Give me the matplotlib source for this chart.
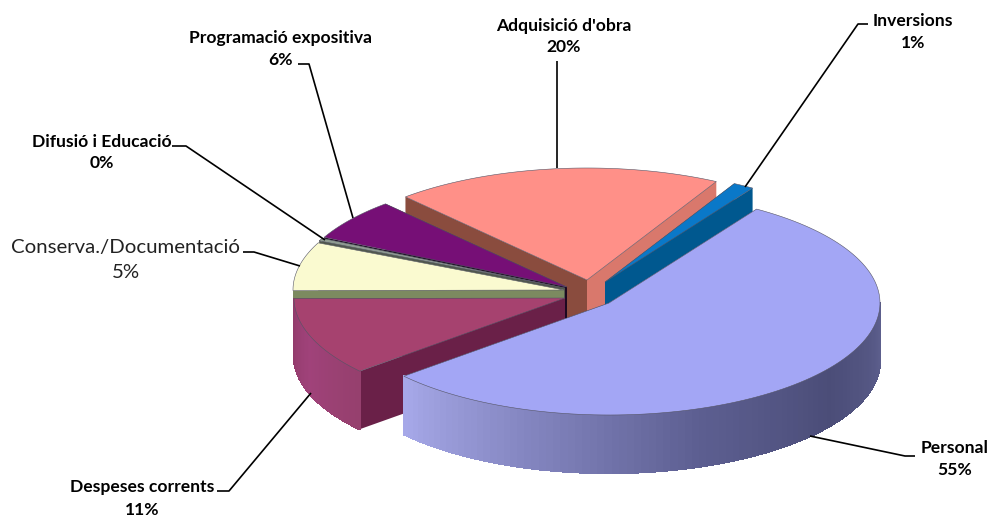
import matplotlib
matplotlib.use('Agg')
import matplotlib.pyplot as plt
from matplotlib.colors import LinearSegmentedColormap
import numpy as np

# slice sizes, going anticlockwise from Personal's far edge
labels = ['Inversions', "Adquisició d'obra", 'Programació expositiva', 'Difusió i Educació',
          'Conserva./Documentació', 'Despeses corrents', 'Personal']
pct_labels = ['1%', '20%', '6%', '0%', '5%', '11%', '55%']
shares = [1.25, 19.6, 6.0, 0.4, 7.0, 11.25, 54.5]

start_angle = 57
rx, ry, depth = 271, 112, 58

# exploded pie centres, in pixels
centres = [(605, 282), (587, 280), (567, 287), (565, 288), (564, 290), (565, 298), (609, 303)]
zorders = [3, 2, 4, 5, 6, 7, 8]
top_cols = ['#0a78c8', '#ff9088', '#760f76', '#8e9a90', '#fafad0', '#a6426f', '#a3a6f5']
# wall at the first and at the second cut of each slice
wall_start = ['#00588f', '#d9786c', '#2a0a30', '#50584c', '#7c8a60', '#6a2048', '#5c5e8c']
wall_end = ['#00588f', '#8a4c3e', '#1c0820', '#50584c', '#7c8a60', '#6a2048', '#a6a8e8']
arc_cmaps = {'Despeses corrents': ['#8f3a68', '#a0427a', '#96406e'],
             'Personal': ['#a6a8e8', '#8082bc', '#5c5e90', '#4b4d78', '#5c5e8c']}

leaders = [[(868, 24), (858, 24), (745, 187)],
           [(557, 61), (557, 168)],
           [(298, 64), (309, 64), (353, 218)],
           [(172, 146), (186, 146), (325, 240)],
           [(243, 252), (254, 252), (300, 266)],
           [(217, 491), (229, 491), (311, 393)],
           [(915, 456), (905, 456), (810, 436)]]
text_pos = [(913, 21, 43), (564, 26, 47), (281, 38, 60), (102, 142, 163),
            (126, 248, 273), (142, 487, 510), (955, 448, 470)]

plt.rcParams['font.family'] = ['Lato', 'DejaVu Sans']

fig = plt.figure(figsize=(9.98, 5.2), dpi=100)
ax = fig.add_axes([0, 0, 1, 1])
ax.set_xlim(0, 998)
ax.set_ylim(520, 0)
ax.axis('off')


def rim(c, ang):
    a = np.radians(ang)
    return c[0] + rx * np.cos(a), c[1] - ry * np.sin(a)


def cut_wall(c, ang, col, z):
    x, y = rim(c, ang)
    ax.fill([c[0], x, x, c[0]], [c[1], y, y + depth, c[1] + depth], color=col, lw=0, zorder=z)


sweeps = np.array(shares) / sum(shares) * 360
a0 = start_angle
for i, lab in enumerate(labels):
    a1 = a0 + sweeps[i]
    c = centres[i]
    z = zorders[i]
    cut_wall(c, a0, wall_start[i], z)
    cut_wall(c, a1, wall_end[i], z)

    # outer wall, only the part that faces the front
    if lab in arc_cmaps:
        cmap = LinearSegmentedColormap.from_list(lab, arc_cmaps[lab])
        lo = max(a0, 180)
        hi = min(a1, 360)
        edges = np.linspace(lo, hi, 90)
        for j in range(len(edges) - 1):
            xa, ya = rim(c, edges[j])
            xb, yb = rim(c, edges[j + 1])
            ax.fill([xa, xb, xb, xa], [ya, yb, yb + depth, ya + depth],
                    color=cmap(j / 88), lw=1, antialiased=False, zorder=z)

    t = np.linspace(a0, a1, 120)
    xs, ys = rim(c, t)
    ax.fill(np.r_[c[0], xs], np.r_[c[1], ys], facecolor=top_cols[i],
            edgecolor='#555566', lw=0.4, zorder=z + 0.5)
    a0 = a1

for pts in leaders:
    xs, ys = zip(*pts)
    ax.plot(xs, ys, color='black', lw=1.2, zorder=20, solid_capstyle='butt')

for lab, pct, (x, y1, y2) in zip(labels, pct_labels, text_pos):
    if lab.startswith('Conserva'):
        ax.text(x, y1, lab, ha='center', va='center', fontsize=14.7, color='#222222')
        ax.text(x, y2, pct, ha='center', va='center', fontsize=14.7, color='#222222')
    else:
        ax.text(x, y1, lab, ha='center', va='center', fontsize=12.6, fontweight='bold')
        ax.text(x, y2, pct, ha='center', va='center', fontsize=12.6, fontweight='bold')

fig.savefig('out.png', dpi=100)
